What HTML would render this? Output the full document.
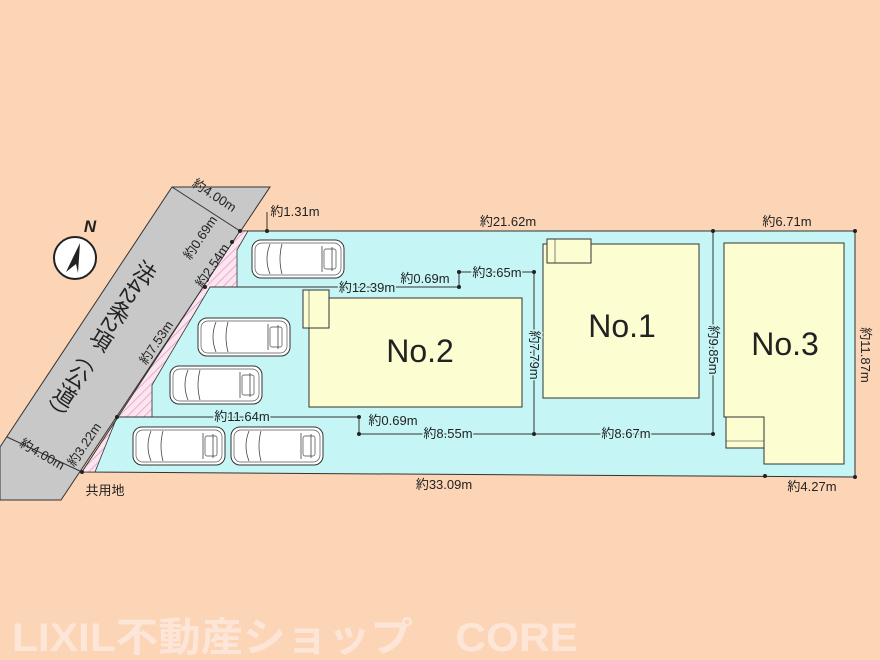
<!DOCTYPE html>
<html><head><meta charset="utf-8"><style>
html,body{margin:0;padding:0;background:#fcd4b6;}
svg{display:block;font-family:"Liberation Sans","Noto Sans CJK JP",sans-serif;}
.d{font-size:13px;fill:#222;}
</style></head><body>
<svg width="880" height="660" viewBox="0 0 880 660" xmlns="http://www.w3.org/2000/svg">
<defs>
<pattern id="h" width="6" height="6" patternUnits="userSpaceOnUse" patternTransform="rotate(45)">
<rect width="6" height="6" fill="#fbe6f0"/><line x1="0" y1="0" x2="0" y2="6" stroke="#e59ac3" stroke-width="1.5"/>
</pattern>
<g id="car">
<rect x="0" y="0" width="92" height="38" rx="9" fill="#fff" stroke="#333" stroke-width="1"/>
<rect x="3" y="3" width="86" height="32" rx="7" fill="none" stroke="#555" stroke-width="0.7"/>
<path d="M18 4 Q12 19 18 34 M30 4 Q26 19 30 34 M70 6 L70 32 M80 7 L80 31" fill="none" stroke="#444" stroke-width="0.8"/>
<rect x="72" y="9" width="12" height="20" rx="2" fill="none" stroke="#444" stroke-width="0.7"/>
</g>
</defs>
<rect width="880" height="660" fill="#fcd4b6"/>
<polygon points="172,187 270,187 61,500 0,500 0,447" fill="#c8c8c8" stroke="#333" stroke-width="1"/>
<polygon points="240,231 855,231 855,477 82,472" fill="#c6f5f5" stroke="#333" stroke-width="1"/>
<polygon points="240,231 248,231 237,250 237,287 210,287 152,385 152,417 117,417 95,472 82,472" fill="url(#h)" stroke="#333" stroke-width="0.8"/>
<line x1="210" y1="287" x2="335" y2="287" stroke="#333" stroke-width="1"/>
<line x1="117" y1="417" x2="359" y2="417" stroke="#333" stroke-width="1"/>
<use href="#car" transform="translate(252,240)"/>
<use href="#car" transform="translate(198,318)"/>
<use href="#car" transform="translate(170,366)"/>
<use href="#car" transform="translate(133,427)"/>
<use href="#car" transform="translate(231,427)"/>
<rect x="309" y="298" width="213" height="109" fill="#fdfdd2" stroke="#333" stroke-width="1"/>
<rect x="303" y="290" width="26" height="38" fill="#fdfdd2" stroke="#333" stroke-width="1"/>
<line x1="309" y1="290" x2="309" y2="328" stroke="#333" stroke-width="0.6"/>
<rect x="543" y="244" width="156" height="154" fill="#fdfdd2" stroke="#333" stroke-width="1"/>
<rect x="547" y="239" width="44" height="24" fill="#fdfdd2" stroke="#333" stroke-width="1"/>
<line x1="555" y1="239" x2="555" y2="263" stroke="#333" stroke-width="0.6"/>
<polygon points="724,243 844,243 844,464 764,464 764,417 724,417" fill="#fdfdd2" stroke="#333" stroke-width="1"/>
<rect x="726" y="417" width="38" height="31" fill="#fdfdd2" stroke="#333" stroke-width="1"/>
<line x1="726" y1="441" x2="764" y2="441" stroke="#333" stroke-width="0.6"/>
<text x="420" y="362" font-size="32" text-anchor="middle" fill="#222">No.2</text>
<text x="622" y="337" font-size="32" text-anchor="middle" fill="#222">No.1</text>
<text x="785" y="355" font-size="32" text-anchor="middle" fill="#222">No.3</text>
<g stroke="#333" stroke-width="1" fill="none">
<line x1="713" y1="231" x2="713" y2="434"/>
<line x1="534" y1="272" x2="534" y2="434"/>
<line x1="359" y1="434" x2="713" y2="434"/>
<line x1="359" y1="417" x2="359" y2="434"/>
<line x1="335" y1="287" x2="459" y2="287"/>
<line x1="459" y1="272" x2="459" y2="287"/>
<line x1="459" y1="272" x2="534" y2="272"/>
<line x1="172" y1="187" x2="240" y2="231"/>
<line x1="7" y1="437" x2="82" y2="472"/>
<line x1="267" y1="212" x2="267" y2="231"/>
</g>
<g fill="#222">
<circle cx="713" cy="231" r="2"/><circle cx="855" cy="231" r="2"/><circle cx="713" cy="434" r="2"/>
<circle cx="534" cy="434" r="2"/><circle cx="534" cy="272" r="2"/><circle cx="359" cy="434" r="2"/><circle cx="359" cy="417" r="2"/>
<circle cx="459" cy="272" r="2"/><circle cx="459" cy="287" r="2"/><circle cx="267" cy="231" r="2"/>
<circle cx="765" cy="476" r="2"/><circle cx="855" cy="477" r="2"/><circle cx="240" cy="231" r="2"/>
<circle cx="232" cy="242" r="2"/><circle cx="205" cy="287" r="2"/><circle cx="117" cy="417" r="2"/><circle cx="82" cy="472" r="2"/>
</g>
<g class="d" text-anchor="middle">
<text x="295" y="216">約1.31m</text>
<text x="508" y="226">約21.62m</text>
<text x="787" y="226">約6.71m</text>
<text x="367" y="292" style="paint-order:stroke" stroke="#c6f5f5" stroke-width="3">約12.39m</text>
<text x="425" y="283" style="paint-order:stroke" stroke="#c6f5f5" stroke-width="3">約0.69m</text>
<text x="497" y="277" style="paint-order:stroke" stroke="#c6f5f5" stroke-width="3">約3.65m</text>
<text x="242" y="421" style="paint-order:stroke" stroke="#c6f5f5" stroke-width="3">約11.64m</text>
<text x="393" y="425">約0.69m</text>
<text x="448" y="438" style="paint-order:stroke" stroke="#c6f5f5" stroke-width="3">約8.55m</text>
<text x="626" y="438" style="paint-order:stroke" stroke="#c6f5f5" stroke-width="3">約8.67m</text>
<text x="444" y="489">約33.09m</text>
<text x="812" y="491">約4.27m</text>
<text x="105" y="495">共用地</text>
<text transform="translate(709,350) rotate(90)" style="paint-order:stroke" stroke="#c6f5f5" stroke-width="3">約9.85m</text>
<text transform="translate(530,355) rotate(90)" style="paint-order:stroke" stroke="#c6f5f5" stroke-width="3">約7.79m</text>
<text transform="translate(861,355) rotate(90)">約11.87m</text>
<text transform="translate(212,199) rotate(33)">約4.00m</text>
<text transform="translate(40,458) rotate(30)">約4.00m</text>
<text transform="translate(204,240) rotate(-56)">約0.69m</text>
<text transform="translate(216,268) rotate(-56)">約2.54m</text>
<text transform="translate(160,345) rotate(-56)">約7.53m</text>
<text transform="translate(88,447) rotate(-56)">約3.22m</text>
</g>
<text transform="translate(150,262) rotate(33)" font-size="22" fill="#222" style="writing-mode:vertical-rl">法42条2項（公道）</text>
<circle cx="75" cy="258" r="21" fill="#fff" stroke="#222" stroke-width="2"/>
<polygon points="80,243 66,272 76,264 78,273" fill="#222"/>
<text x="90" y="232" font-size="17" font-weight="bold" font-style="italic" fill="#222" text-anchor="middle">N</text>
<text x="12" y="651" font-size="40" font-weight="bold" fill="#fde6d8" textLength="566" lengthAdjust="spacingAndGlyphs">LIXIL不動産ショップ　CORE</text>
</svg>
</body></html>
